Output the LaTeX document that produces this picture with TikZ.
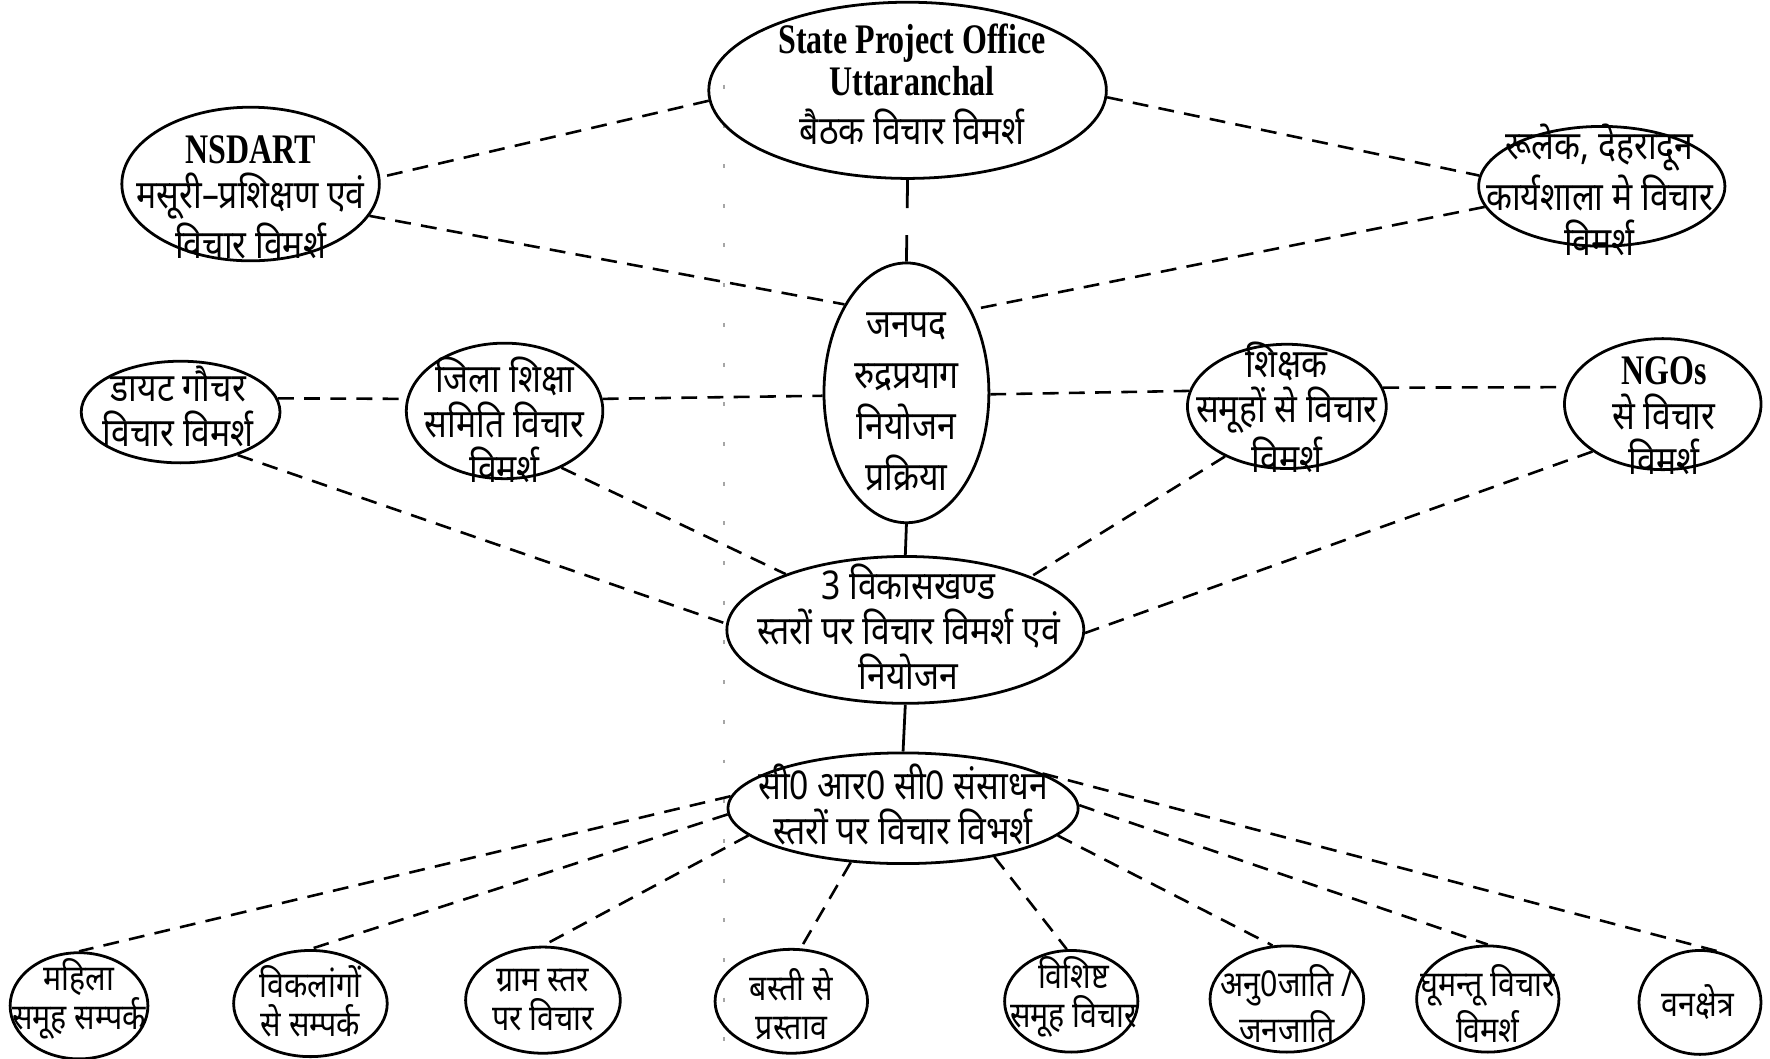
\documentclass[tikz,border=0pt]{standalone}
\usepackage{fontspec}
\usetikzlibrary{shapes.geometric}
\newfontfamily\deva[Script=Devanagari,FakeStretch=0.85]{Noto Sans}
\newfontfamily\latb[FakeStretch=0.76]{Liberation Serif}
\newcommand\latbf[1]{{\latb\bfseries\fontsize{10.6}{11.5}\selectfont #1}}
\tikzset{
  ell/.style={draw, ellipse, line width=0.7pt, inner sep=0pt},
  dtext/.style={align=center, inner sep=0pt, font=\deva\fontsize{10}{11.3}\selectfont},
  btext/.style={align=center, inner sep=0pt, font=\deva\fontsize{9}{9.8}\selectfont},
  link/.style={line width=0.65pt, dash pattern=on 4pt off 2.6pt},
  solidlink/.style={line width=0.7pt},
  scanline/.style={gray!70, line width=0.5pt, dash pattern=on 1pt off 9pt},
}
\begin{document}
\begin{tikzpicture}[x=0.01cm,y=-0.01cm]
\useasboundingbox (0,0) rectangle (1568,938);
% scan artefact
\coordinate (sa) at (641,75);
\coordinate (sb) at (641,938);
\draw[scanline] (sa) -- (sb);

% top
\node[ell, minimum width=3.52cm, minimum height=1.56cm] (spo) at (804,80) {};
\node[dtext] (spot) at (808,75)
  {\latbf{State Project Office}\\[-0.8pt] \latbf{Uttaranchal}\\[1.2pt] बैठक विचार विमर्श};

\node[ell, minimum width=2.28cm, minimum height=1.36cm] (nsdart) at (222,163) {};
\node[dtext] (nsdartt) at (222,175)
  {\latbf{NSDART}\\ मसूरी–प्रशिक्षण एवं\\ विचार विमर्श};

\node[ell, minimum width=2.18cm, minimum height=1.06cm] (rulek) at (1419,165) {};
\node[dtext] (rulekt) at (1417,168) {रूलेक, देहरादून\\ कार्यशाला मे विचार\\ विमर्श};

\node[ell, minimum width=1.46cm, minimum height=2.30cm] (janpad) at (803,348) {};
\node[dtext, font=\deva\fontsize{10}{12.8}\selectfont] (janpadt) at (803,356)
  {जनपद\\ रुद्रप्रयाग\\ नियोजन\\ प्रक्रिया};

% middle row
\node[ell, minimum width=1.76cm, minimum height=0.90cm] (diet) at (160,365) {};
\node[dtext] (dietett) at (158,360) {डायट गौचर\\ विचार विमर्श};

\node[ell, minimum width=1.74cm, minimum height=1.20cm] (jila) at (447,364) {};
\node[dtext] (jilat) at (447,372) {जिला शिक्षा\\ समिति विचार\\ विमर्श};

\node[ell, minimum width=1.76cm, minimum height=1.10cm] (shikshak) at (1140,360) {};
\node[dtext] (shikshakt) at (1140,361) {शिक्षक\\ समूहों से विचार\\ विमर्श};

\node[ell, minimum width=1.74cm, minimum height=1.16cm] (ngo) at (1473,358) {};
\node[dtext] (ngot) at (1474,368)
  {\latbf{NGOs}\\ से विचार\\ विमर्श};

\node[ell, minimum width=3.16cm, minimum height=1.30cm] (vikas) at (802,558) {};
\node[dtext] (vikast) at (805,555) {3 विकासखण्ड\\ स्तरों पर विचार विमर्श एवं\\ नियोजन};

\node[ell, minimum width=3.10cm, minimum height=0.98cm] (crc) at (800,716) {};
\node[dtext] (crct) at (800,713) {सी0 आर0 सी0 संसाधन\\ स्तरों पर विचार विभर्श};

% bottom row
\node[ell, minimum width=1.22cm, minimum height=0.94cm] (b1) at (70,891) {};
\node[btext] (b1t) at (70,885) {महिला\\ समूह सम्पर्क};
\node[ell, minimum width=1.36cm, minimum height=0.94cm] (b2) at (275,889) {};
\node[btext] (b2t) at (275,887) {विकलांगों\\ से सम्पर्क};
\node[ell, minimum width=1.37cm, minimum height=0.94cm] (b3) at (481,886) {};
\node[btext] (b3t) at (481,886) {ग्राम स्तर\\ पर विचार};
\node[ell, minimum width=1.35cm, minimum height=0.92cm] (b4) at (701,887) {};
\node[btext] (b4t) at (701,890) {बस्ती से\\ प्रस्ताव};
\node[ell, minimum width=1.18cm, minimum height=0.90cm] (b5) at (949,887) {};
\node[btext] (b5t) at (951,883) {विशिष्ट\\ समूह विचार};
\node[ell, minimum width=1.36cm, minimum height=0.94cm] (b6) at (1140,885) {};
\node[btext] (b6t) at (1140,889) {अनु0जाति /\\ जनजाति};
\node[ell, minimum width=1.26cm, minimum height=0.94cm] (b7) at (1318,885) {};
\node[btext] (b7t) at (1318,889) {घूमन्तू विचार\\ विमर्श};
\node[ell, minimum width=1.08cm, minimum height=0.92cm] (b8) at (1506,888) {};
\node[btext] (b8t) at (1504,888) {वनक्षेत्र};

% connectors
\draw[solidlink, dash pattern=on 0.25cm off 0.24cm on 1cm] (spo.270) -- (janpad.90);
\draw[link] (spo.183) -- (nsdart.3);
\draw[link] (spo.358) -- (rulek.175);
\draw[link] (nsdart.345) -- (janpad.125);
\draw[link] (rulek.190) -- (janpad.52);
\draw[link] (diet.8) -- (jila.173);
\draw[link] (jila.7) -- (janpad.182);
\draw[link] (janpad.359) -- (shikshak.171);
\draw[link] (shikshak.11) -- (ngo.170);
\draw[solidlink] (janpad.270) -- (vikas.90);
\draw[link] (diet.323) -- (vikas.178);
\draw[link] (jila.315) -- (vikas.155);
\draw[link] (shikshak.219) -- (vikas.23);
\draw[link] (ngo.214) -- (vikas.359);
\draw[solidlink] (vikas.270) -- (crc.90);
\draw[link] (crc.176) -- (b1.90);
\draw[link] (crc.182) -- (b2.90);
\draw[link] (crc.190) -- (b3.90);
\draw[link] (crc.226) -- (b4.80);
\draw[link] (crc.332) -- (b5.95);
\draw[link] (crc.350) -- (b6.105);
\draw[link] (crc.1) -- (b7.90);
\draw[link] (crc.14) -- (b8.70);
\end{tikzpicture}
\end{document}
